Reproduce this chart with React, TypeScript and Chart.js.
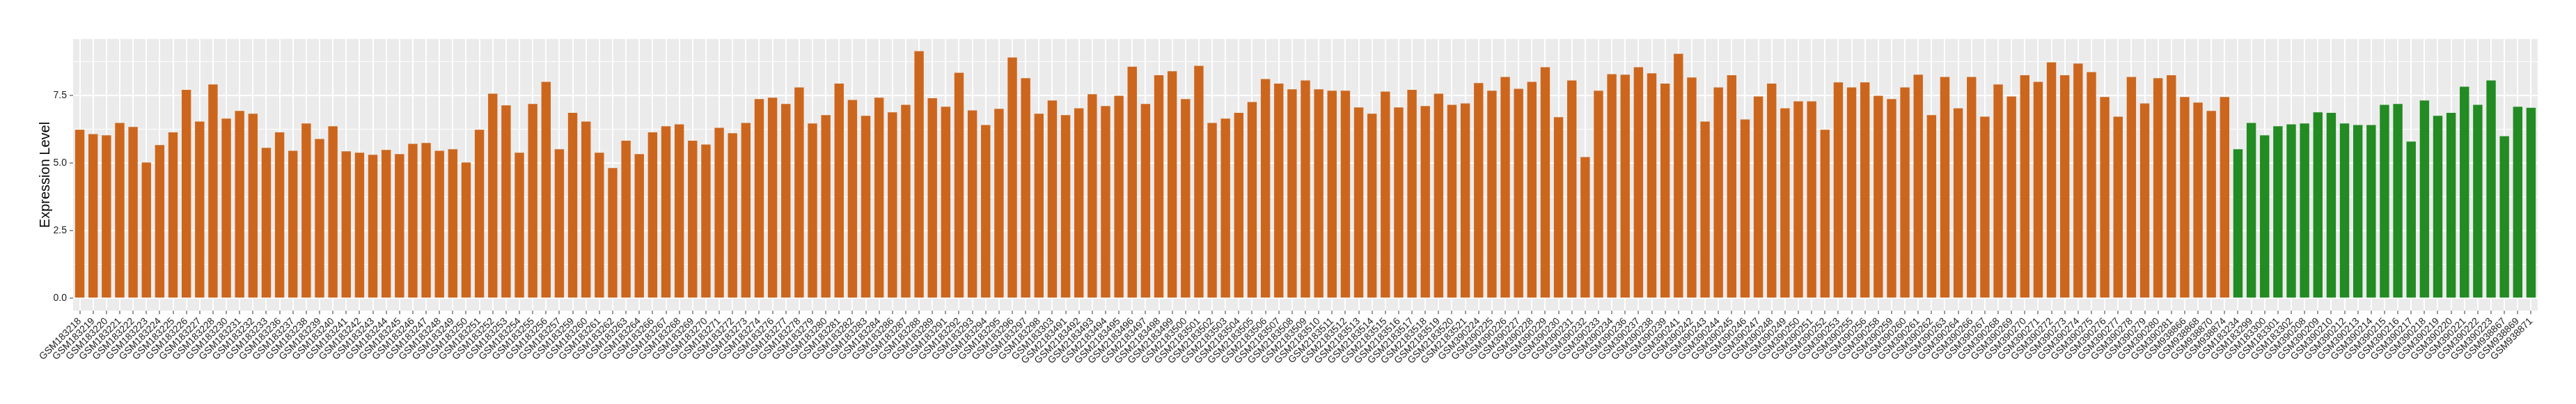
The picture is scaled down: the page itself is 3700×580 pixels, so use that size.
import React, { useEffect, useRef } from "react";
import { Chart, registerables } from "chart.js";

Chart.register(...registerables);

const groupASamples = [
  "GSM183218","GSM183219","GSM183220","GSM183221","GSM183222","GSM183223","GSM183224","GSM183225","GSM183226","GSM183227",
  "GSM183228","GSM183230","GSM183231","GSM183232","GSM183233","GSM183236","GSM183237","GSM183238","GSM183239","GSM183240",
  "GSM183241","GSM183242","GSM183243","GSM183244","GSM183245","GSM183246","GSM183247","GSM183248","GSM183249","GSM183250",
  "GSM183251","GSM183252","GSM183253","GSM183254","GSM183255","GSM183256","GSM183257","GSM183259","GSM183260","GSM183261",
  "GSM183262","GSM183263","GSM183264","GSM183266","GSM183267","GSM183268","GSM183269","GSM183270","GSM183271","GSM183272",
  "GSM183273","GSM183274","GSM183276","GSM183277","GSM183278","GSM183279","GSM183280","GSM183281","GSM183282","GSM183283",
  "GSM183284","GSM183286","GSM183287","GSM183288","GSM183289","GSM183291","GSM183292","GSM183293","GSM183294","GSM183295",
  "GSM183296","GSM183297","GSM183298","GSM183303","GSM2183491","GSM2183492","GSM2183493","GSM2183494","GSM2183495","GSM2183496",
  "GSM2183497","GSM2183498","GSM2183499","GSM2183500","GSM2183501","GSM2183502","GSM2183503","GSM2183504","GSM2183505","GSM2183506",
  "GSM2183507","GSM2183508","GSM2183509","GSM2183510","GSM2183511","GSM2183512","GSM2183513","GSM2183514","GSM2183515","GSM2183516",
  "GSM2183517","GSM2183518","GSM2183519","GSM2183520","GSM2183521","GSM390224","GSM390225","GSM390226","GSM390227","GSM390228",
  "GSM390229","GSM390230","GSM390231","GSM390232","GSM390233","GSM390234","GSM390236","GSM390237","GSM390238","GSM390239",
  "GSM390241","GSM390242","GSM390243","GSM390244","GSM390245","GSM390246","GSM390247","GSM390248","GSM390249","GSM390250",
  "GSM390251","GSM390252","GSM390253","GSM390255","GSM390256","GSM390258","GSM390259","GSM390260","GSM390261","GSM390262",
  "GSM390263","GSM390264","GSM390266","GSM390267","GSM390268","GSM390269","GSM390270","GSM390271","GSM390272","GSM390273",
  "GSM390274","GSM390275","GSM390276","GSM390277","GSM390278","GSM390279","GSM390280","GSM390281","GSM938866","GSM938868",
  "GSM938870","GSM938874",
];

const groupAValues = [
  6.23,6.07,6.02,6.48,6.33,5.02,5.66,6.13,7.70,6.53,
  7.90,6.64,6.92,6.82,5.56,6.13,5.45,6.46,5.89,6.36,
  5.43,5.38,5.30,5.48,5.33,5.71,5.74,5.45,5.51,5.02,
  6.23,7.56,7.13,5.38,7.18,8.00,5.51,6.85,6.53,5.38,
  4.81,5.82,5.33,6.13,6.36,6.43,5.82,5.68,6.30,6.10,
  6.48,7.36,7.41,7.18,7.79,6.46,6.77,7.93,7.33,6.74,
  7.41,6.87,7.15,9.13,7.39,7.08,8.33,6.94,6.40,7.00,
  8.90,8.13,6.82,7.31,6.77,7.02,7.54,7.10,7.48,8.56,
  7.18,8.24,8.39,7.36,8.59,6.48,6.64,6.85,7.25,8.10,
  7.93,7.72,8.05,7.72,7.67,7.67,7.05,6.82,7.64,7.05,
  7.70,7.10,7.56,7.15,7.20,7.95,7.67,8.18,7.74,8.00,
  8.54,6.69,8.05,5.22,7.67,8.28,8.26,8.54,8.31,7.93,
  9.03,8.16,6.53,7.79,8.24,6.61,7.46,7.93,7.02,7.28,
  7.28,6.23,7.98,7.79,7.98,7.48,7.36,7.79,8.26,6.77,
  8.18,7.02,8.18,6.71,7.90,7.46,8.24,8.00,8.72,8.24,
  8.67,8.36,7.44,6.71,8.18,7.20,8.13,8.24,7.44,7.23,
  6.92,7.44,
];

const groupBSamples = [
  "GSM183234","GSM183299","GSM183300","GSM183301","GSM183302","GSM390208","GSM390209","GSM390210","GSM390212","GSM390213",
  "GSM390214","GSM390215","GSM390216","GSM390217","GSM390218","GSM390219","GSM390220","GSM390221","GSM390222","GSM390223",
  "GSM938867","GSM938869","GSM938871",
];

const groupBValues = [
  5.51,6.48,6.02,6.36,6.43,6.46,6.87,6.85,6.46,6.40,
  6.40,7.15,7.18,5.79,7.31,6.74,6.85,7.82,7.15,8.05,
  5.99,7.08,7.04,
];

const yTickValues = [0, 1.25, 2.5, 3.75, 5, 6.25, 7.5, 8.75];
const yMajorTicks = [0, 2.5, 5, 7.5];

const COLOR_A = "#CD661D";
const COLOR_B = "#228B22";
const FONT = "'Liberation Sans', Arial, Helvetica, sans-serif";

const panelBackground = {
  id: "panelBackground",
  beforeDraw(chart: any) {
    const { ctx, chartArea } = chart;
    if (!chartArea) return;
    ctx.save();
    ctx.fillStyle = "#EBEBEB";
    ctx.fillRect(chartArea.left, chartArea.top, chartArea.right - chartArea.left, chartArea.bottom - chartArea.top);
    ctx.restore();
  },
};

export default function App() {
  const canvasRef = useRef<HTMLCanvasElement | null>(null);

  useEffect(() => {
    if (!canvasRef.current) return;
    const labels = [...groupASamples, ...groupBSamples];
    const values = [...groupAValues, ...groupBValues];
    const colors = [
      ...groupAValues.map(() => COLOR_A),
      ...groupBValues.map(() => COLOR_B),
    ];
    const isMajor = (v: number) => yMajorTicks.some((m) => Math.abs(m - v) < 1e-6);

    const chart = new Chart(canvasRef.current, {
      type: "bar",
      data: {
        labels,
        datasets: [
          {
            data: values,
            backgroundColor: colors,
            borderWidth: 0,
            categoryPercentage: 0.7,
            barPercentage: 1,
          },
        ],
      },
      plugins: [panelBackground],
      options: {
        animation: false,
        responsive: false,
        devicePixelRatio: 1,
        layout: { padding: { top: 56, right: 55, bottom: 0, left: 0 } },
        plugins: {
          legend: { display: false },
          tooltip: { enabled: false },
        },
        scales: {
          x: {
            offset: true,
            grid: {
              offset: false,
              color: "#FFFFFF",
              lineWidth: 2,
              tickColor: "#333333",
              tickLength: 5,
              tickWidth: 1,
            },
            border: { display: false },
            ticks: {
              autoSkip: false,
              minRotation: 45,
              maxRotation: 45,
              padding: 2,
              color: "#1A1A1A",
              font: { family: FONT, size: 14 },
            },
            afterFit: (scale: any) => {
              scale.height = 134;
            },
          },
          y: {
            min: -0.456,
            max: 9.58,
            afterBuildTicks: (scale: any) => {
              scale.ticks = yTickValues.map((v) => ({ value: v }));
            },
            afterFit: (scale: any) => {
              scale.width = 105;
            },
            grid: {
              color: "#FFFFFF",
              lineWidth: (ctx: any) => (isMajor(ctx.tick?.value) ? 2 : 1),
              tickColor: (ctx: any) => (isMajor(ctx.tick?.value) ? "#333333" : "rgba(0,0,0,0)"),
              tickLength: 5,
              tickWidth: 1,
            },
            border: { display: false },
            ticks: {
              padding: 4,
              color: "#1A1A1A",
              font: { family: FONT, size: 14 },
              callback: (value: any) => (isMajor(Number(value)) ? Number(value).toFixed(1) : ""),
            },
            title: {
              display: true,
              text: "Expression Level",
              color: "#000000",
              font: { family: FONT, size: 20 },
              padding: { top: 53, bottom: 0 },
            },
          },
        },
      },
    });
    return () => chart.destroy();
  }, []);

  return (
    <div style={{ position: "absolute", left: 0, top: 0, width: 3700, height: 580, background: "#FFFFFF" }}>
      <canvas ref={canvasRef} width={3700} height={580} style={{ width: 3700, height: 580, display: "block" }} />
    </div>
  );
}
